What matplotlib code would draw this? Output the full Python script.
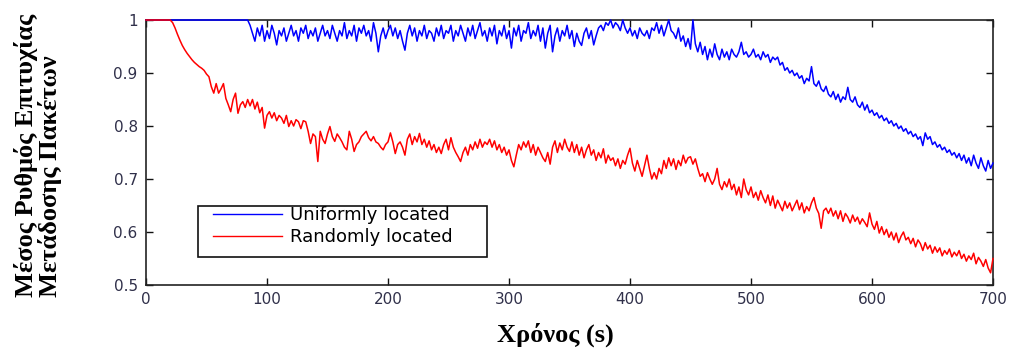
import numpy as np
import matplotlib
matplotlib.use("Agg")
import matplotlib.pyplot as plt
from matplotlib.patches import Rectangle

# Average packet delivery ratio, sampled every 2 s from 0 to 700 s
uniform_ratio = [
    1.0, 1.0, 1.0, 1.0, 1.0, 1.0, 1.0, 1.0, 1.0, 1.0,
    1.0, 1.0, 1.0, 1.0, 1.0, 1.0, 1.0, 1.0, 1.0, 1.0,
    1.0, 1.0, 1.0, 1.0, 1.0, 1.0, 1.0, 1.0, 1.0, 1.0,
    1.0, 1.0, 1.0, 1.0, 1.0, 1.0, 1.0, 1.0, 1.0, 1.0,
    1.0, 1.0, 1.0, 0.99, 0.975, 0.96, 0.985, 0.97, 0.99, 0.96,
    0.98, 0.965, 0.99, 0.975, 0.953, 0.98, 0.97, 0.985, 0.96, 0.975,
    0.99, 0.97, 0.98, 0.96, 0.985, 0.975, 0.99, 0.965, 0.98, 0.97,
    0.985, 0.96, 0.975, 0.99, 0.97, 0.98, 0.965, 0.99, 0.975, 0.96,
    0.98, 0.97, 0.995, 0.965, 0.98, 0.97, 0.99, 0.96, 0.985, 0.975,
    0.99, 0.97, 0.98, 0.96, 0.995, 0.975, 0.94, 0.97, 0.985, 0.965,
    0.98, 0.99, 0.97, 0.985, 0.965, 0.98, 0.96, 0.943, 0.975, 0.99,
    0.97, 0.985, 0.96, 0.98, 0.97, 0.99, 0.965, 0.98, 0.975, 0.96,
    0.985, 0.97, 0.99, 0.965, 0.98, 0.975, 0.99, 0.96, 0.98, 0.97,
    0.99, 0.975, 0.96, 0.985, 0.97, 0.99, 0.965, 0.98, 0.995, 0.97,
    0.98, 0.96, 0.985, 0.97, 0.99, 0.955, 0.98, 0.97, 0.99, 0.965,
    0.98, 0.947, 0.985, 0.97, 0.99, 0.96, 0.98, 0.975, 0.995, 0.965,
    0.98, 0.97, 0.99, 0.96, 0.985, 0.947, 0.975, 0.99, 0.94, 0.97,
    0.985, 0.96, 0.98, 0.97, 0.99, 0.965, 0.98, 0.95, 0.975, 0.96,
    0.952, 0.975, 0.985, 0.965, 0.98, 0.953, 0.97, 0.985, 0.99, 0.98,
    0.995, 0.99, 1.0, 0.985, 0.995, 0.99, 0.98, 1.0, 0.985, 0.975,
    0.985, 0.97, 0.98, 0.965, 0.985, 0.975, 0.97, 0.98, 0.965, 0.985,
    0.98, 0.995, 0.975, 0.99, 0.97, 0.985, 1.0, 0.98, 0.975, 0.965,
    0.985, 0.96, 0.97, 0.95, 0.965, 0.945, 1.0, 0.955, 0.94, 0.958,
    0.935, 0.95, 0.925, 0.945, 0.93, 0.955, 0.935, 0.925, 0.945, 0.93,
    0.94, 0.925, 0.945, 0.935, 0.93, 0.94, 0.958, 0.935, 0.94, 0.93,
    0.935, 0.945, 0.93, 0.935, 0.925, 0.94, 0.93, 0.935, 0.92, 0.93,
    0.925, 0.93, 0.915, 0.92, 0.905, 0.91, 0.9, 0.905, 0.895, 0.9,
    0.89, 0.895, 0.88, 0.89, 0.885, 0.912, 0.88, 0.875, 0.885, 0.87,
    0.865, 0.875, 0.86, 0.855, 0.865, 0.85, 0.86, 0.845, 0.855, 0.85,
    0.873, 0.85, 0.845, 0.855, 0.84, 0.835, 0.845, 0.83, 0.84, 0.825,
    0.83, 0.82, 0.825, 0.815, 0.82, 0.81, 0.815, 0.805, 0.81, 0.8,
    0.805, 0.795, 0.8, 0.79, 0.795, 0.785, 0.79, 0.78, 0.785, 0.775,
    0.78, 0.763, 0.787, 0.775, 0.78, 0.765, 0.77, 0.76, 0.765, 0.755,
    0.76, 0.75, 0.755, 0.745, 0.75, 0.74, 0.748, 0.735, 0.745, 0.73,
    0.74, 0.725, 0.745, 0.73, 0.72, 0.74, 0.725, 0.715, 0.735, 0.72,
    0.73,
]

random_ratio = [
    1.0, 1.0, 1.0, 1.0, 1.0, 1.0, 1.0, 1.0, 1.0, 1.0,
    1.0, 0.995, 0.985, 0.973, 0.962, 0.952, 0.944, 0.937, 0.931, 0.925,
    0.92, 0.916, 0.912, 0.909, 0.905, 0.898, 0.893, 0.874, 0.862, 0.88,
    0.862, 0.87, 0.88, 0.852, 0.84, 0.827, 0.85, 0.862, 0.824, 0.84,
    0.846, 0.835, 0.85, 0.838, 0.85, 0.832, 0.845, 0.825, 0.835, 0.796,
    0.82, 0.827, 0.815, 0.825, 0.81, 0.82, 0.815, 0.805, 0.82, 0.799,
    0.81, 0.8, 0.812, 0.808, 0.795, 0.81, 0.808, 0.79, 0.767, 0.785,
    0.78, 0.733, 0.79, 0.775, 0.767, 0.785, 0.799, 0.78, 0.771, 0.785,
    0.778, 0.77, 0.76, 0.755, 0.79, 0.775, 0.752, 0.765, 0.77, 0.78,
    0.785, 0.79, 0.778, 0.772, 0.78, 0.77, 0.767, 0.76, 0.755, 0.765,
    0.77, 0.787, 0.77, 0.748, 0.765, 0.77, 0.76, 0.745, 0.775, 0.785,
    0.765, 0.78, 0.77, 0.786, 0.765, 0.775, 0.76, 0.772, 0.755, 0.765,
    0.75, 0.76, 0.748, 0.765, 0.775, 0.755, 0.778, 0.76, 0.75, 0.742,
    0.733, 0.75, 0.76, 0.745, 0.765, 0.755, 0.77, 0.758, 0.775, 0.76,
    0.77, 0.765, 0.775, 0.76, 0.772, 0.755, 0.765, 0.75, 0.76, 0.745,
    0.755, 0.735, 0.723, 0.745, 0.765, 0.755, 0.77, 0.76, 0.772, 0.75,
    0.765, 0.745, 0.76, 0.75, 0.74, 0.733, 0.75, 0.728, 0.76, 0.772,
    0.75, 0.768, 0.755, 0.775, 0.76, 0.752, 0.77, 0.75, 0.765, 0.745,
    0.76, 0.74, 0.755, 0.765, 0.745, 0.755, 0.735, 0.75, 0.74, 0.757,
    0.73, 0.745, 0.735, 0.74, 0.725, 0.738, 0.72, 0.735, 0.728, 0.745,
    0.758, 0.73, 0.715, 0.735, 0.72, 0.705, 0.725, 0.745, 0.72, 0.7,
    0.712, 0.7, 0.72, 0.71, 0.735, 0.72, 0.74, 0.725, 0.738, 0.718,
    0.735, 0.725, 0.745, 0.73, 0.74, 0.742, 0.728, 0.738, 0.72, 0.705,
    0.71, 0.695, 0.712, 0.7, 0.69, 0.7, 0.72, 0.69, 0.68, 0.695,
    0.685, 0.7, 0.68, 0.69, 0.67, 0.685, 0.665, 0.7, 0.68, 0.67,
    0.685, 0.665, 0.675, 0.66, 0.678, 0.665, 0.655, 0.67, 0.65, 0.668,
    0.645, 0.66, 0.65, 0.64, 0.658, 0.645, 0.655, 0.64, 0.65, 0.66,
    0.642, 0.655, 0.636, 0.648, 0.64, 0.655, 0.665, 0.645, 0.635, 0.607,
    0.64, 0.645, 0.635, 0.645, 0.63, 0.64, 0.625, 0.64, 0.62, 0.635,
    0.628, 0.617, 0.632, 0.62, 0.628, 0.615, 0.625, 0.618, 0.61, 0.636,
    0.615, 0.605, 0.62, 0.598, 0.61, 0.595, 0.605, 0.59, 0.6, 0.585,
    0.598, 0.58, 0.592, 0.6, 0.585, 0.59, 0.578, 0.588, 0.572, 0.585,
    0.578, 0.565, 0.58, 0.568, 0.575, 0.56, 0.572, 0.562, 0.57, 0.555,
    0.565, 0.558, 0.568, 0.553, 0.562, 0.555, 0.565, 0.55, 0.558, 0.545,
    0.555, 0.548, 0.56, 0.54, 0.552, 0.545, 0.535, 0.548, 0.532, 0.523,
    0.55,
]

time_s = np.arange(len(uniform_ratio)) * 2

series_labels = ["Uniformly located", "Randomly located"]
x_ticks = [0, 100, 200, 300, 400, 500, 600, 700]
y_ticks = [0.5, 0.6, 0.7, 0.8, 0.9, 1.0]
y_tick_labels = ["0.5", "0.6", "0.7", "0.8", "0.9", "1"]

W, H = 1013, 351
fig = plt.figure(figsize=(W / 100, H / 100), dpi=100)
ax = fig.add_axes([146 / W, 66 / H, 847 / W, 265 / H])

l1, = ax.plot(time_s, uniform_ratio, color="#0000ff", lw=1.1, zorder=3,
              clip_on=False)
l2, = ax.plot(time_s, random_ratio, color="#ff0000", lw=1.1, zorder=3,
              clip_on=False)

ax.set_xlim(0, 700)
ax.set_ylim(0.5, 1.0)
ax.set_xticks(x_ticks)
ax.set_yticks(y_ticks)
ax.set_yticklabels(y_tick_labels)

tick_color = "#30304a"
ax.tick_params(direction="in", length=5, width=1.0, top=True, right=True,
               labelsize=11, labelcolor=tick_color, color="#111111")
ax.tick_params(axis="y", pad=6)
ax.tick_params(axis="x", pad=5)
for sp in ax.spines.values():
    sp.set_color("#222222")
    sp.set_linewidth(1.2)

# Legend: framed box drawn separately, entries placed inside it
x0 = (198 - 146) / 847
x1 = (487 - 146) / 847
y0 = (285 - 257) / 265
y1 = (285 - 206) / 265
ax.add_patch(Rectangle((x0, y0), x1 - x0, y1 - y0, transform=ax.transAxes,
                       facecolor="white", edgecolor="#111111", lw=1.2,
                       zorder=4))
leg = ax.legend([l1, l2], series_labels, loc="upper left",
                bbox_to_anchor=((212.7 - 146) / 847, (285 - 206) / 265),
                frameon=False, borderpad=0, borderaxespad=0,
                handlelength=3.85, handletextpad=0.45, labelspacing=0.22,
                prop={"family": "DejaVu Sans", "size": 13})
leg.set_zorder(5)
for h in leg.get_lines():
    h.set_linewidth(1.0)

label_font = {"family": "Liberation Serif", "weight": "bold", "size": 19}
fig.text(555 / W, (351 - 335) / H, "Χρόνος (s)", ha="center", va="center",
         fontdict=label_font)
fig.text(38 / W, (351 - 297) / H,
         "Μέσος Ρυθμός Επιτυχίας\nΜετάδοσης Πακέτων",
         rotation=90, ha="center", va="bottom", multialignment="left",
         linespacing=1.05, fontdict=label_font)

fig.savefig("out.png", dpi=100)
